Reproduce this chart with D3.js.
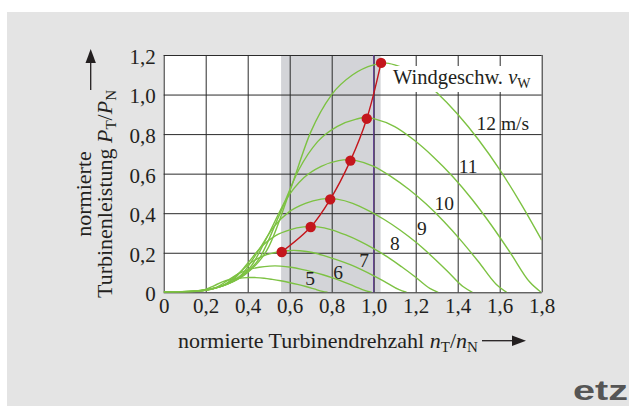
<!DOCTYPE html>
<html>
<head>
<meta charset="utf-8">
<script src="https://cdn.jsdelivr.net/npm/d3@7"></script>
<style>
body { margin: 0; background: #fff; }
svg text { font-family: "Liberation Serif", "Times New Roman", serif; fill: #231f20; }
</style>
</head>
<body>
<svg id="chart" width="629" height="406"></svg>
<script>
// tick values + labels (german decimal comma)
var xTicks = [0, 0.2, 0.4, 0.6, 0.8, 1.0, 1.2, 1.4, 1.6, 1.8];
var xTickLabels = ["0", "0,2", "0,4", "0,6", "0,8", "1,0", "1,2", "1,4", "1,6", "1,8"];
var yTicks = [0, 0.2, 0.4, 0.6, 0.8, 1.0, 1.2];
var yTickLabels = ["0", "0,2", "0,4", "0,6", "0,8", "1,0", "1,2"];

// turbine power curves, [n_T/n_N, P_T/P_N]
var speeds = [5, 6, 7, 8, 9, 10, 11, 12];
var curve5 = [[0,0],[0.08,0.0008],[0.119,0.0026],[0.159,0.0065],[0.199,0.0149],[0.239,0.033],[0.279,0.0524],[0.318,0.0647],[0.358,0.0712],[0.398,0.0744],[0.418,0.0751],[0.438,0.0744],[0.478,0.0712],[0.517,0.0653],[0.557,0.0582],[0.597,0.0498],[0.637,0.0401],[0.677,0.0291],[0.716,0.0171],[0.756,0.0045],[0.78,0]];
var curve6 = [[0,0],[0.101,0.0014],[0.152,0.0046],[0.202,0.0115],[0.253,0.0265],[0.303,0.0587],[0.354,0.0932],[0.404,0.115],[0.455,0.1265],[0.505,0.1323],[0.53,0.1334],[0.556,0.1323],[0.606,0.1265],[0.657,0.1162],[0.707,0.1035],[0.758,0.0886],[0.808,0.0713],[0.859,0.0518],[0.909,0.0304],[0.96,0.0081],[0.99,0]];
var curve7 = [[0,0],[0.118,0.002],[0.177,0.007],[0.236,0.018],[0.295,0.042],[0.354,0.093],[0.413,0.148],[0.472,0.183],[0.531,0.201],[0.59,0.210],[0.62,0.212],[0.649,0.210],[0.708,0.201],[0.767,0.184],[0.826,0.164],[0.885,0.141],[0.944,0.113],[1.003,0.082],[1.062,0.048],[1.121,0.013],[1.156,0]];
var curve8 = [[0,0],[0.133,0.003],[0.2,0.012],[0.267,0.029],[0.333,0.066],[0.4,0.147],[0.467,0.233],[0.533,0.287],[0.6,0.316],[0.667,0.331],[0.7,0.333],[0.733,0.331],[0.8,0.316],[0.867,0.290],[0.933,0.259],[1.0,0.221],[1.067,0.178],[1.133,0.129],[1.2,0.076],[1.267,0.020],[1.307,0]];
var curve9 = [[0,0],[0.15,0.005],[0.225,0.016],[0.3,0.041],[0.375,0.094],[0.45,0.209],[0.525,0.332],[0.6,0.409],[0.675,0.450],[0.75,0.471],[0.788,0.475],[0.825,0.471],[0.9,0.450],[0.975,0.413],[1.05,0.368],[1.125,0.315],[1.2,0.254],[1.275,0.184],[1.35,0.108],[1.425,0.029],[1.47,0]];
var curve10 = [[0,0],[0.167,0.007],[0.25,0.023],[0.333,0.058],[0.417,0.133],[0.5,0.295],[0.583,0.469],[0.667,0.579],[0.75,0.637],[0.833,0.666],[0.875,0.671],[0.917,0.666],[1.0,0.637],[1.083,0.585],[1.167,0.521],[1.25,0.446],[1.333,0.359],[1.417,0.260],[1.5,0.153],[1.583,0.041],[1.633,0]];
var curve11 = [[0,0],[0.183,0.009],[0.275,0.030],[0.367,0.076],[0.458,0.175],[0.55,0.389],[0.642,0.617],[0.733,0.762],[0.825,0.838],[0.917,0.876],[0.963,0.884],[1.008,0.876],[1.1,0.838],[1.192,0.770],[1.283,0.686],[1.375,0.587],[1.467,0.472],[1.558,0.343],[1.65,0.201],[1.742,0.053],[1.797,0]];
var curve12 = [[0,0],[0.2,0.012],[0.3,0.04],[0.4,0.10],[0.5,0.23],[0.6,0.51],[0.7,0.81],[0.8,1.0],[0.9,1.10],[1.0,1.15],[1.05,1.16],[1.1,1.15],[1.2,1.10],[1.3,1.01],[1.4,0.90],[1.5,0.77],[1.6,0.62],[1.7,0.45],[1.8,0.264]];
var curves = [curve5, curve6, curve7, curve8, curve9, curve10, curve11, curve12];

// operating points (red)
var opN = [0.562, 0.70, 0.793, 0.889, 0.967, 1.035];
var opP = [0.204, 0.330, 0.470, 0.666, 0.878, 1.16];

// shaded speed range
var bandFrom = 0.559, bandTo = 1.033;

// curve labels and where they sit (data coords, text centre)
var curveLabels = ["5", "6", "7", "8", "9", "10", "11"];
var labelAt = [[0.697,0.071],[0.831,0.104],[0.954,0.160],[1.101,0.248],[1.229,0.324],[1.336,0.450],[1.450,0.640]];

var svg = d3.select("#chart");
// NB: "top" is a reserved window prop, so prefixed names
var plotL = 163.7, plotR = 541.7, plotT = 55, plotB = 292.3;

var x = d3.scaleLinear().domain([0, 1.8]).range([plotL, plotR]);
var y = d3.scaleLinear().domain([0, 1.2]).range([plotB, plotT]);

// backgrounds
svg.append("rect").attr("width", 629).attr("height", 406).attr("fill", "#fff");
svg.append("rect").attr("x", 7).attr("y", 12).attr("width", 622).attr("height", 394).attr("fill", "#e4e4e4");
svg.append("rect").attr("x", plotL).attr("y", plotT).attr("width", plotR - plotL).attr("height", plotB - plotT).attr("fill", "#fff");

// shaded band
svg.append("rect")
    .attr("x", x(bandFrom)).attr("y", plotT)
    .attr("width", x(bandTo) - x(bandFrom)).attr("height", plotB - plotT)
    .attr("fill", "#d3d4d8");

// grid + tick labels via axes
var xAxis = d3.axisBottom(x).tickValues(xTicks).tickSize(-(plotB - plotT)).tickPadding(6)
    .tickFormat(function(d, i) { return xTickLabels[i]; });
var yAxis = d3.axisLeft(y).tickValues(yTicks).tickSize(-(plotR - plotL)).tickPadding(8)
    .tickFormat(function(d, i) { return yTickLabels[i]; });

var gx = svg.append("g").attr("transform", "translate(0," + plotB + ")").call(xAxis);
var gy = svg.append("g").attr("transform", "translate(" + plotL + ",0)").call(yAxis);
[gx, gy].forEach(function(g) {
    g.select(".domain").remove();
    g.selectAll(".tick line").attr("stroke", "#2b2b2b").attr("stroke-width", 1);
    g.selectAll("text").attr("font-family", null).attr("font-size", "21px").attr("fill", "#231f20");
});
gx.selectAll("text").attr("dy", null).attr("y", 21);
gy.selectAll("text").attr("dy", "0.4em");

// purple line at n = 1.0
svg.append("line")
    .attr("x1", x(1.0)).attr("x2", x(1.0)).attr("y1", plotT).attr("y2", plotB)
    .attr("stroke", "#5e3a8e").attr("stroke-width", 1.2);

svg.append("clipPath").attr("id", "plotclip")
    .append("rect").attr("x", plotL).attr("y", plotT - 8).attr("width", plotR - plotL).attr("height", plotB - plotT + 8);

var line = d3.line()
    .x(function(d) { return x(d[0]); })
    .y(function(d) { return y(d[1]); })
    .curve(d3.curveMonotoneX);

svg.append("g").attr("clip-path", "url(#plotclip)")
    .selectAll("path")
    .data(curves)
    .enter()
    .append("path")
        .attr("d", line)
        .attr("fill", "none")
        .attr("stroke", "#7dc243")
        .attr("stroke-width", 1.4);

// red operating line + dots
var ops = opN.map(function(n, i) { return [n, opP[i]]; });
svg.append("path")
    .attr("d", d3.line().x(function(d) { return x(d[0]); }).y(function(d) { return y(d[1]); }).curve(d3.curveCatmullRom)(ops))
    .attr("fill", "none").attr("stroke", "#c4161c").attr("stroke-width", 1.4);
svg.selectAll("circle.op")
    .data(ops)
    .enter()
    .append("circle")
        .attr("class", "op")
        .attr("cx", function(d) { return x(d[0]); })
        .attr("cy", function(d) { return y(d[1]); })
        .attr("r", 5.2)
        .attr("fill", "#c4161c");

// curve labels
svg.selectAll("text.clabel")
    .data(curveLabels)
    .enter()
    .append("text")
        .attr("class", "clabel")
        .attr("x", function(d, i) { return x(labelAt[i][0]); })
        .attr("y", function(d, i) { return y(labelAt[i][1]); })
        .attr("dy", "0.35em")
        .attr("text-anchor", "middle")
        .attr("font-size", "19.5px")
        .text(function(d) { return d; });

svg.append("text").attr("x", 476.5).attr("y", 130).attr("font-size", "19.5px").text("12 m/s");

// legend title box
svg.append("rect").attr("x", 389).attr("y", 66).attr("width", 149).attr("height", 26).attr("fill", "#fff");
var wt = svg.append("text").attr("x", 393).attr("y", 84).attr("font-size", "20.5px");
wt.append("tspan").text("Windgeschw. ");
wt.append("tspan").attr("font-style", "italic").text("v");
wt.append("tspan").attr("font-size", "14px").attr("dy", 4).text("W");

// x axis title
var xt = svg.append("text").attr("x", 178).attr("y", 348).attr("font-size", "22px");
xt.append("tspan").text("normierte Turbinendrehzahl ");
xt.append("tspan").attr("font-style", "italic").text("n");
xt.append("tspan").attr("font-size", "15px").attr("dy", 4).text("T");
xt.append("tspan").attr("dy", -4).text("/");
xt.append("tspan").attr("font-style", "italic").text("n");
xt.append("tspan").attr("font-size", "15px").attr("dy", 4).text("N");
svg.append("line").attr("x1", 482).attr("x2", 514).attr("y1", 340.7).attr("y2", 340.7)
    .attr("stroke", "#231f20").attr("stroke-width", 1.3);
svg.append("path").attr("d", "M526,340.7 L512,335.5 L512,345.9 Z").attr("fill", "#231f20");

// y axis title (two rotated lines)
var yt = svg.append("g").attr("transform", "translate(0,194) rotate(-90)");
yt.append("text").attr("x", 0).attr("y", 91).attr("text-anchor", "middle").attr("font-size", "22px").text("normierte");
var yt2 = yt.append("text").attr("x", 0).attr("y", 112).attr("text-anchor", "middle").attr("font-size", "22px");
yt2.append("tspan").text("Turbinenleistung ");
yt2.append("tspan").attr("font-style", "italic").text("P");
yt2.append("tspan").attr("font-size", "15px").attr("dy", 4).text("T");
yt2.append("tspan").attr("dy", -4).text("/");
yt2.append("tspan").attr("font-style", "italic").text("P");
yt2.append("tspan").attr("font-size", "15px").attr("dy", 4).text("N");
svg.append("line").attr("x1", 90.7).attr("x2", 90.7).attr("y1", 90).attr("y2", 60)
    .attr("stroke", "#231f20").attr("stroke-width", 1.3);
svg.append("path").attr("d", "M90.7,49 L85.5,63 L95.9,63 Z").attr("fill", "#231f20");

// etz logo
svg.append("text").attr("x", 573).attr("y", 400)
    .style("font-family", "'Liberation Sans', Arial, sans-serif")
    .attr("font-weight", "bold").attr("font-size", "28px")
    .attr("textLength", 55).attr("lengthAdjust", "spacingAndGlyphs")
    .style("fill", "#555")
    .text("etz");
</script>
</body>
</html>
